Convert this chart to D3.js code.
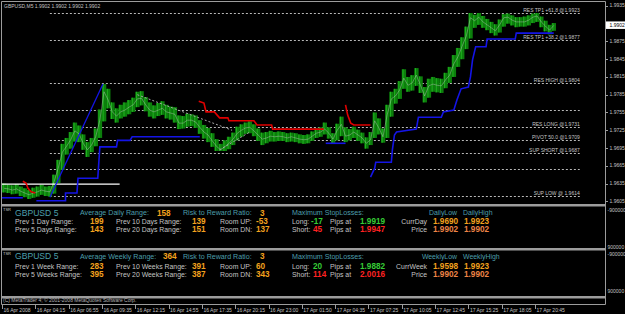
<!DOCTYPE html>
<html>
<head>
<meta charset="utf-8">
<script src="https://cdn.jsdelivr.net/npm/d3@7/dist/d3.min.js"></script>
<style>
body { margin: 0; background: #000; }
svg { display: block; }
text { font-family: "Liberation Sans", Arial, sans-serif; }
</style>
</head>
<body>
<script>
let width = 625
let height = 314

let symbol = "GBPUSD,M5"
let lastPrice = 1.9902

// M5 chart, one sample every 4 bars
let barStep = 4
let highs = [
  1.9635,1.9633,1.9632,1.9634,1.9630,1.9627,1.9624,1.9628,1.9630,1.9633,1.9630,1.9631,
  1.9650,1.9675,1.9702,1.9712,1.9722,1.9738,1.9733,1.9718,1.9705,1.9712,1.9728,1.9760,
  1.9803,1.9795,1.9772,1.9762,1.9768,1.9772,1.9776,1.9780,1.9790,1.9791,1.9781,1.9772,
  1.9767,1.9771,1.9774,1.9768,1.9765,1.9764,1.9750,1.9749,1.9753,1.9752,1.9750,1.9742,
  1.9734,1.9729,1.9720,1.9710,1.9702,1.9708,1.9714,1.9721,1.9731,1.9735,1.9738,1.9740,
  1.9735,1.9728,1.9721,1.9722,1.9724,1.9722,1.9723,1.9722,1.9720,1.9721,1.9720,1.9718,
  1.9717,1.9718,1.9723,1.9728,1.9730,1.9738,1.9730,1.9720,1.9736,1.9748,1.9730,1.9727,
  1.9731,1.9726,1.9721,1.9713,1.9722,1.9755,1.9745,1.9728,1.9768,1.9790,1.9795,1.9808,
  1.9828,1.9815,1.9818,1.9830,1.9816,1.9798,1.9812,1.9815,1.9813,1.9812,1.9822,1.9832,
  1.9852,1.9864,1.9882,1.9900,1.9923,1.9920,1.9923,1.9918,1.9913,1.9908,1.9904,1.9912,
  1.9921,1.9922,1.9919,1.9916,1.9916,1.9917,1.9919,1.9922,1.9923,1.9917,1.9910,1.9903,1.9906
]
let lows = [
  1.9620,1.9619,1.9617,1.9618,1.9614,1.9612,1.9609,1.9611,1.9613,1.9616,1.9614,1.9613,
  1.9618,1.9636,1.9658,1.9684,1.9694,1.9706,1.9705,1.9692,1.9680,1.9688,1.9698,1.9712,
  1.9740,1.9762,1.9744,1.9738,1.9745,1.9748,1.9752,1.9756,1.9764,1.9767,1.9757,1.9748,
  1.9745,1.9749,1.9751,1.9745,1.9743,1.9738,1.9727,1.9728,1.9731,1.9732,1.9729,1.9719,
  1.9711,1.9705,1.9697,1.9690,1.9690,1.9690,1.9693,1.9700,1.9708,1.9714,1.9719,1.9720,
  1.9715,1.9707,1.9700,1.9703,1.9706,1.9706,1.9707,1.9707,1.9705,1.9706,1.9705,1.9703,
  1.9702,1.9703,1.9707,1.9712,1.9714,1.9718,1.9711,1.9702,1.9708,1.9715,1.9705,1.9708,
  1.9712,1.9707,1.9703,1.9694,1.9700,1.9712,1.9718,1.9704,1.9712,1.9748,1.9770,1.9778,
  1.9795,1.9790,1.9792,1.9800,1.9788,1.9772,1.9780,1.9790,1.9789,1.9788,1.9796,1.9805,
  1.9815,1.9832,1.9845,1.9862,1.9880,1.9898,1.9903,1.9898,1.9894,1.9889,1.9885,1.9890,
  1.9900,1.9905,1.9902,1.9899,1.9900,1.9900,1.9902,1.9906,1.9908,1.9899,1.9892,1.9887,1.9893
]
let closes = [
  1.9627,1.9626,1.9624,1.9626,1.9622,1.9619,1.9616,1.9619,1.9621,1.9624,1.9622,1.9621,
  1.9638,1.9661,1.9688,1.9698,1.9709,1.9724,1.9719,1.9703,1.9692,1.9700,1.9714,1.9742,
  1.9790,1.9776,1.9756,1.9749,1.9756,1.9759,1.9764,1.9768,1.9778,1.9779,1.9768,1.9759,
  1.9756,1.9759,1.9762,1.9756,1.9754,1.9752,1.9737,1.9737,1.9742,1.9742,1.9739,1.9730,
  1.9722,1.9717,1.9707,1.9698,1.9692,1.9697,1.9703,1.9710,1.9720,1.9725,1.9729,1.9730,
  1.9724,1.9717,1.9710,1.9712,1.9715,1.9714,1.9715,1.9714,1.9712,1.9714,1.9712,1.9710,
  1.9709,1.9710,1.9715,1.9720,1.9722,1.9727,1.9720,1.9710,1.9725,1.9735,1.9715,1.9717,
  1.9722,1.9717,1.9712,1.9703,1.9709,1.9741,1.9729,1.9714,1.9751,1.9778,1.9783,1.9793,
  1.9813,1.9801,1.9805,1.9818,1.9801,1.9783,1.9800,1.9803,1.9801,1.9800,1.9810,1.9818,
  1.9837,1.9849,1.9867,1.9884,1.9915,1.9910,1.9916,1.9908,1.9903,1.9898,1.9893,1.9903,
  1.9915,1.9916,1.9911,1.9908,1.9908,1.9908,1.9911,1.9916,1.9918,1.9908,1.9901,1.9894,1.9902
]

let timeLabels = ["16 Apr 2008", "16 Apr 04:15", "16 Apr 06:55", "16 Apr 09:35", "16 Apr 12:15",
  "16 Apr 14:55", "16 Apr 17:35", "16 Apr 20:15", "16 Apr 23:00", "17 Apr 01:50", "17 Apr 04:35",
  "17 Apr 07:25", "17 Apr 10:05", "17 Apr 12:45", "17 Apr 15:25", "17 Apr 18:05", "17 Apr 20:45"]
let barsPerLabel = 32

let priceTicks = [1.9935, 1.9875, 1.9845, 1.9815, 1.9785, 1.9755, 1.9725, 1.9695, 1.9665, 1.9635, 1.9605]

let levelPrices = [1.9923, 1.9877, 1.9804, 1.9759, 1.9731, 1.9709, 1.9687, 1.9660, 1.9614]
let levelNames = ["RES TP1 +61.8 @1.9923", "RES TP1 +38.2 @1.9877", "RES HIGH  @1.9804", "",
  "RES LONG @1.9731", "PIVOT 50.0 @1.9709", "SUP SHORT  @1.9687", "", "SUP LOW  @ 1.9614"]
let levelBars = [46, 555]

// [bar, price] polylines
let trailUp = [
  [[0, 1.9611], [20, 1.9611]],
  [[33, 1.9606], [61, 1.9606], [61, 1.9619], [72, 1.9619], [73, 1.9644], [92, 1.9644], [94, 1.9697],
   [110, 1.9697], [111, 1.9708], [123, 1.9708], [125, 1.9714], [190, 1.9714]],
  [[311, 1.9703], [330, 1.9703]],
  [[354, 1.9646], [358, 1.9661], [359, 1.9671], [374, 1.9671], [375, 1.9692], [377, 1.9717], [379, 1.9722],
   [398, 1.9727], [400, 1.9747], [422, 1.9747], [424, 1.9756], [434, 1.9759], [437, 1.9776], [441, 1.9795],
   [448, 1.9798], [450, 1.9815], [452, 1.9844], [455, 1.9866], [465, 1.9866], [466, 1.9879], [493, 1.9879],
   [494, 1.9889], [530, 1.9889]]
]
let trailDown = [
  [[20, 1.9639], [23, 1.9636], [25, 1.9627], [28, 1.9621], [32, 1.9619]],
  [[189, 1.9774], [194, 1.9771], [196, 1.9756], [204, 1.9756], [209, 1.9746], [217, 1.9746], [218, 1.9741],
   [242, 1.9741], [245, 1.9734], [259, 1.9734], [260, 1.9727], [309, 1.9727]],
  [[330, 1.9768], [332, 1.9751], [335, 1.9737], [338, 1.9734], [354, 1.9734]]
]
let swingLine = [[46, 1.9612], [97, 1.9803]]
let trendLines = [
  [[130, 1.9785], [221, 1.9725]],
  [[209, 1.9692], [238, 1.9722]]
]
let openLine = [[0, 1.9634], [113, 1.9634]]

// TSR panel values: [daily, weekly]
let periodTitles = ["Average Daily Range:", "Average Weekly Range:"]
let rangeNames = [
  ["Prev 1 Day Range:", "Prev 5 Days Range:", "Prev 10 Days Range:", "Prev 20 Days Range:"],
  ["Prev 1 Week Range:", "Prev 5 Weeks Range:", "Prev 10 Weeks Range:", "Prev 20 Weeks Range:"]
]
let avgRange = [158, 364]
let prevRanges = [[199, 143, 139, 151], [283, 395, 391, 387]]
let rewardRatio = [3, 3]
let roomUp = [-53, 60]
let roomDn = [137, 343]
let stopLong = [-17, 20]
let stopShort = [45, 114]
let stopLongAt = [1.9919, 1.9882]
let stopShortAt = [1.9947, 2.0016]
let currNames = ["CurrDay", "CurrWeek"]
let lowNames = ["DailyLow", "WeeklyLow"]
let highNames = ["DailyHigh", "WeeklyHigh"]
let periodLow = [1.9690, 1.9598]
let periodHigh = [1.9923, 1.9923]
let paneLabels = ["-900000", "900000"]

let silver = '#c4c4c4'
let frame = '#9c9c9c'
let teal = '#4c9fab'
let orange = '#f2a21e'
let salmon = '#ee8446'
let green = '#36cc36'
let red = '#ff2222'
let blue = '#1414e6'
let f4 = d3.format('.4f')

let x = d3.scaleLinear().domain([0, 512]).range([2, 535])
let y = d3.scaleLinear().domain([1.9614, 1.9923]).range([196, 13])
let line = d3.line().x(d => x(d[0])).y(d => y(d[1]))

let svg = d3.select('body').append('svg')
    .attr('width', width)
    .attr('height', height)
    .style('background', '#000')

svg.append('clipPath').attr('id', 'mainClip')
  .append('rect').attr('x', 2).attr('y', 2).attr('width', 603).attr('height', 202)

let main = svg.append('g').attr('clip-path', 'url(#mainClip)')

// level lines
main.selectAll('.level')
  .data(levelPrices)
  .enter().append('line')
  .attr('class', 'level')
  .attr('x1', x(levelBars[0])).attr('x2', x(levelBars[1]))
  .attr('y1', d => Math.round(y(d)) + 0.5).attr('y2', d => Math.round(y(d)) + 0.5)
  .attr('stroke', '#b8b8b8')
  .attr('stroke-dasharray', '2,2')

main.selectAll('.level-name')
  .data(levelPrices)
  .enter().append('text')
  .attr('x', x(levelBars[1]))
  .attr('y', d => Math.round(y(d)) - 1)
  .attr('text-anchor', 'end')
  .attr('font-size', 5)
  .attr('fill', silver)
  .text((d, i) => levelNames[i])

// price bars
let bars = closes.map((c, k) => ({ bar: k * barStep, hi: highs[k], lo: lows[k], close: c }))
let bw = x(barStep) - x(0)

main.selectAll('.bar')
  .data(bars)
  .enter().append('rect')
  .attr('x', d => x(d.bar))
  .attr('width', bw + 0.2)
  .attr('y', d => y(d.hi))
  .attr('height', d => Math.max(1, y(d.lo) - y(d.hi)))
  .attr('fill', '#0c7e0c')

main.selectAll('.wick')
  .data(bars)
  .enter().append('line')
  .attr('x1', d => x(d.bar) + bw * 0.3).attr('x2', d => x(d.bar) + bw * 0.3)
  .attr('y1', d => y(d.hi)).attr('y2', d => y(d.lo))
  .attr('stroke', '#22b822')
  .attr('stroke-width', 0.9)

main.append('path')
  .datum(bars.map(d => [d.bar + barStep / 2, d.close]))
  .attr('d', line)
  .attr('fill', 'none')
  .attr('stroke', '#c8c8c8')
  .attr('stroke-opacity', 0.5)
  .attr('stroke-width', 0.8)

main.selectAll('.trend')
  .data(trendLines)
  .enter().append('path')
  .attr('d', line)
  .attr('fill', 'none')
  .attr('stroke', '#a8a8a8')
  .attr('stroke-dasharray', '2,2')

main.append('path')
  .datum(openLine)
  .attr('d', line)
  .attr('stroke', '#ffffff')
  .attr('stroke-width', 1.2)

main.append('path')
  .datum(swingLine)
  .attr('d', line)
  .attr('stroke', blue)
  .attr('stroke-width', 1.3)

main.selectAll('.trail-up')
  .data(trailUp)
  .enter().append('path')
  .attr('d', line)
  .attr('fill', 'none')
  .attr('stroke', blue)
  .attr('stroke-width', 1.6)

main.selectAll('.trail-down')
  .data(trailDown)
  .enter().append('path')
  .attr('d', line)
  .attr('fill', 'none')
  .attr('stroke', '#e00000')
  .attr('stroke-width', 1.6)

// header
svg.append('text')
  .attr('x', 4).attr('y', 7.5)
  .attr('font-size', 5)
  .attr('fill', silver)
  .text(symbol + '  ' + [lastPrice, lastPrice, lastPrice, lastPrice].map(f4).join(' '))

// frame
svg.append('path')
  .attr('d', 'M1.5,304.5 V1.5 H605.5 V304.5 H1.5')
  .attr('fill', 'none')
  .attr('stroke', frame)

let separators = [204, 248, 296]
svg.selectAll('.sep')
  .data(separators)
  .enter().append('rect')
  .attr('x', 1).attr('width', 605)
  .attr('y', d => d).attr('height', 2.5)
  .attr('fill', frame)

// price axis
svg.selectAll('.ptick')
  .data(priceTicks)
  .enter().append('line')
  .attr('x1', 605).attr('x2', 608)
  .attr('y1', d => Math.round(y(d)) + 0.5).attr('y2', d => Math.round(y(d)) + 0.5)
  .attr('stroke', frame)

svg.selectAll('.plabel')
  .data(priceTicks)
  .enter().append('text')
  .attr('x', 609.5)
  .attr('y', d => y(d) + 1.5)
  .attr('font-size', 5)
  .attr('fill', silver)
  .text(f4)

svg.append('rect')
  .attr('x', 606).attr('y', y(lastPrice) - 4)
  .attr('width', 19).attr('height', 7.5)
  .attr('fill', '#ffffff')
svg.append('text')
  .attr('x', 609.5).attr('y', y(lastPrice) + 1.5)
  .attr('font-size', 5)
  .attr('fill', '#000')
  .text(f4(lastPrice))

// indicator pane axis labels
let paneTops = [207, 251]
paneTops.forEach(t => {
  svg.selectAll(null)
    .data(paneLabels)
    .enter().append('text')
    .attr('x', 607.5)
    .attr('y', (d, i) => i === 0 ? t + 5 : t + 41.5)
    .attr('font-size', 5)
    .attr('fill', silver)
    .text(d => d)
})

// time axis
let tAxis = svg.append('g')
tAxis.selectAll('line')
  .data(timeLabels)
  .enter().append('line')
  .attr('x1', (d, i) => Math.round(x(i * barsPerLabel)) + 0.5)
  .attr('x2', (d, i) => Math.round(x(i * barsPerLabel)) + 0.5)
  .attr('y1', 305).attr('y2', 309)
  .attr('stroke', frame)
tAxis.selectAll('text')
  .data(timeLabels)
  .enter().append('text')
  .attr('x', (d, i) => x(i * barsPerLabel) + 1.5)
  .attr('y', 311.5)
  .attr('font-size', 5)
  .attr('fill', silver)
  .text(d => d)

svg.append('text')
  .attr('x', 3).attr('y', 302.3)
  .attr('font-size', 5)
  .attr('fill', '#b4b4b4')
  .text('(C) MetaTrader 4; \u00a9 2001-2008 MetaQuotes Software Corp.')

// TSR panels
let rowY = [[215.2, 224.4, 232], [259, 268.6, 277]]
let lbl = 6.9
let num = 8.2

function put(g, px, py, txt, color, size, bold, anchor) {
  g.append('text')
    .attr('x', px).attr('y', py)
    .attr('font-size', size)
    .attr('font-weight', bold ? 'bold' : 'normal')
    .attr('text-anchor', anchor || 'start')
    .attr('fill', color)
    .text(txt)
}

periodTitles.forEach((title, p) => {
  let g = svg.append('g')
  let r = rowY[p]
  put(g, 3, r[0] - 4.5, 'TSR', silver, 4, false)
  put(g, 15, r[0] + 0.3, 'GBPUSD 5', teal, 8.6, false)
  put(g, 80, r[0], title, teal, 7.1, false)
  put(g, p === 0 ? 157 : 163, r[0] + 0.3, avgRange[p], orange, num, true)
  put(g, 183, r[0], 'Risk to Reward Ratio:', teal, 7.1, false)
  put(g, 260, r[0] + 0.3, rewardRatio[p], orange, num, true)
  put(g, 292, r[0], 'Maximum StopLosses:', teal, 7.1, false)
  put(g, 457, r[0], lowNames[p], teal, 6.9, false, 'end')
  put(g, 463, r[0], highNames[p], teal, 6.9, false)

  put(g, 15, r[1], rangeNames[p][0], silver, lbl, false)
  put(g, 90, r[1], prevRanges[p][0], orange, num, true)
  put(g, 116, r[1], rangeNames[p][2], silver, lbl, false)
  put(g, 192, r[1], prevRanges[p][2], orange, num, true)
  put(g, 220, r[1], 'Room UP:', silver, lbl, false)
  put(g, 256, r[1], roomUp[p], orange, num, true)
  put(g, 292, r[1], 'Long:', silver, lbl, false)
  put(g, stopLong[p] < 0 ? 311 : 313, r[1], stopLong[p], green, num, true)
  put(g, 330, r[1], 'Pips at', silver, lbl, false)
  put(g, 360, r[1], f4(stopLongAt[p]), green, num, true)
  put(g, 427, r[1], currNames[p], silver, lbl, false, 'end')
  put(g, 433, r[1], f4(periodLow[p]), orange, num, true)
  put(g, 464, r[1], f4(periodHigh[p]), orange, num, true)

  put(g, 15, r[2], rangeNames[p][1], silver, lbl, false)
  put(g, 90, r[2], prevRanges[p][1], orange, num, true)
  put(g, 116, r[2], rangeNames[p][3], silver, lbl, false)
  put(g, 192, r[2], prevRanges[p][3], orange, num, true)
  put(g, 220, r[2], 'Room DN:', silver, lbl, false)
  put(g, 256, r[2], roomDn[p], orange, num, true)
  put(g, 292, r[2], 'Short:', silver, lbl, false)
  put(g, 313, r[2], stopShort[p], red, num, true)
  put(g, 330, r[2], 'Pips at', silver, lbl, false)
  put(g, 360, r[2], f4(stopShortAt[p]), red, num, true)
  put(g, 427, r[2], 'Price', silver, lbl, false, 'end')
  put(g, 433, r[2], f4(lastPrice), salmon, num, true)
  put(g, 464, r[2], f4(lastPrice), salmon, num, true)
})
</script>
</body>
</html>
